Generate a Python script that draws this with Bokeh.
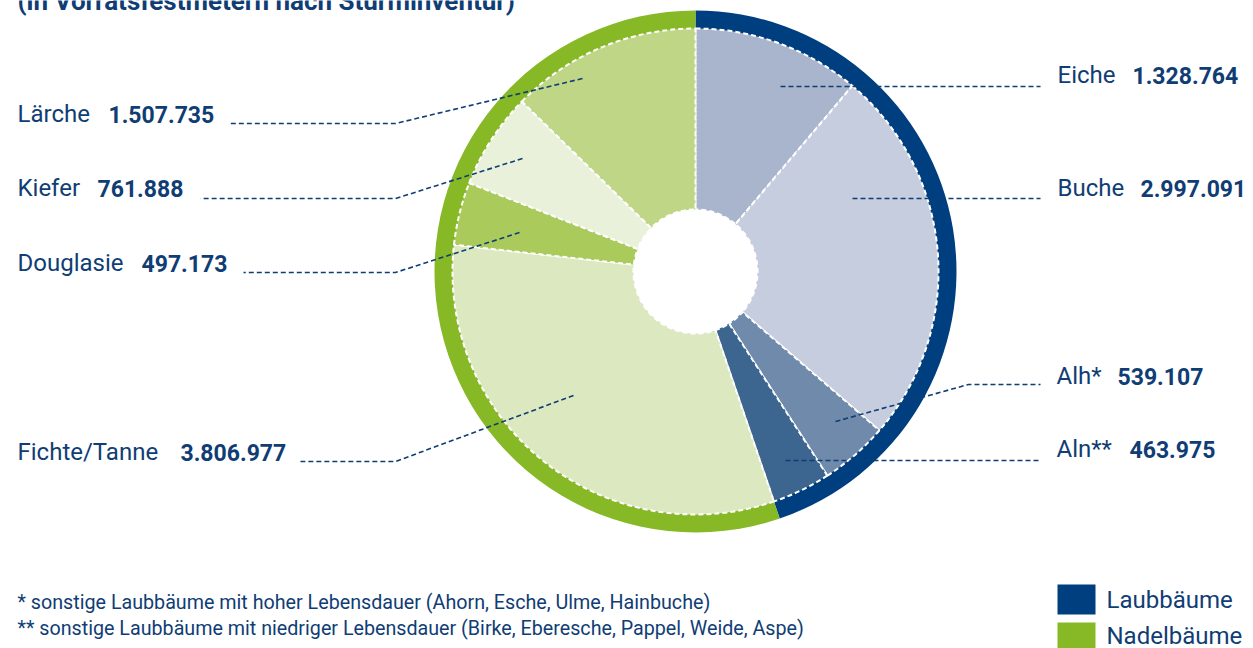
import math
from bokeh.plotting import figure
from bokeh.models import Range1d, ColumnDataSource
from bokeh.core.properties import value
from bokeh.embed import file_html
from bokeh.resources import INLINE

# ---------------- data ----------------
species = ["Eiche", "Buche", "Alh*", "Aln**", "Fichte/Tanne", "Douglasie", "Kiefer", "Lärche"]
volumes = [1328764, 2997091, 539107, 463975, 3806977, 497173, 761888, 1507735]
value_labels = ["1.328.764", "2.997.091", "539.107", "463.975", "3.806.977", "497.173", "761.888", "1.507.735"]
groups = ["Laubbäume", "Laubbäume", "Laubbäume", "Laubbäume", "Nadelbäume", "Nadelbäume", "Nadelbäume", "Nadelbäume"]
group_names = ["Laubbäume", "Nadelbäume"]
title_text = "(in Vorratsfestmetern nach Sturminventur)"
footnotes = ["*  sonstige Laubbäume mit hoher Lebensdauer (Ahorn, Esche, Ulme, Hainbuche)",
             "**  sonstige Laubbäume mit niedriger Lebensdauer (Birke, Eberesche, Pappel, Weide, Aspe)"]

# ---------------- style ----------------
slice_colors = ["#a9b5cd", "#c6cddf", "#6f8aab", "#3c6590", "#dce8c0", "#aacb5c", "#e9f1da", "#bfd686"]
group_colors = {"Laubbäume": "#003f7f", "Nadelbäume": "#86b925"}
TXT = "#0f3d74"
FONT = "Roboto"
BL = 0.38   # svg text sits this many em below the given y; compensate

CX, CY = 695, 271          # screen position of centre
R_HOLE, R_PIE, R_RING = 62, 243, 261

# label layout (screen px): name x, value x, baseline y, leader polyline
label_layout = {
    "Eiche":        dict(nx=1057, vx=1132, by=84,  line=[(780, 86), (1040, 86)]),
    "Buche":        dict(nx=1057, vx=1140, by=197, line=[(852, 198), (1040, 198)]),
    "Alh*":         dict(nx=1056, vx=1117, by=385, line=[(835, 421), (968, 384), (1040, 384)]),
    "Aln**":        dict(nx=1056, vx=1129, by=458, line=[(785, 460), (1040, 460)]),
    "Fichte/Tanne": dict(nx=17,   vx=180,  by=461, line=[(573, 395), (395, 461), (300, 461)]),
    "Douglasie":    dict(nx=17,   vx=141,  by=272, line=[(519, 232), (395, 272), (243, 272)]),
    "Kiefer":       dict(nx=17,   vx=97,   by=197, line=[(522, 158), (395, 198), (200, 198)]),
    "Lärche":       dict(nx=17,   vx=108,  by=123, line=[(582, 78), (395, 123), (230, 123)]),
}


def ty(baseline, size):
    return -(baseline - BL * size)


W, H = 1253, 648
p = figure(width=W, height=H, output_backend="svg", toolbar_location=None,
           x_range=Range1d(0, W), y_range=Range1d(-H, 0),
           min_border=0, x_axis_location=None, y_axis_location=None)
p.grid.visible = False
p.outline_line_color = None
p.background_fill_color = "white"
p.border_fill_color = "white"

# ---- pie slices (clockwise from 12 o'clock) ----
total = float(sum(volumes))
starts, ends = [], []
acc = 0.0
for v in volumes:
    a0 = acc / total * 2 * math.pi
    acc += v
    a1 = acc / total * 2 * math.pi
    starts.append(math.pi / 2 - a0)
    ends.append(math.pi / 2 - a1)

src = ColumnDataSource(dict(start=starts, end=ends, color=slice_colors))

# group ring
g_start, g_end, g_col = [], [], []
acc = 0.0
for g in group_names:
    gv = sum(v for v, gg in zip(volumes, groups) if gg == g)
    a0 = acc / total * 2 * math.pi
    acc += gv
    a1 = acc / total * 2 * math.pi
    g_start.append(math.pi / 2 - a0)
    g_end.append(math.pi / 2 - a1)
    g_col.append(group_colors[g])
p.annular_wedge(x=CX, y=-CY, inner_radius=R_PIE - 2, outer_radius=R_RING,
                inner_radius_units="screen", outer_radius_units="screen",
                start_angle=g_start, end_angle=g_end, direction="clock",
                fill_color=g_col, line_color=None)

p.annular_wedge(x=CX, y=-CY, inner_radius=R_HOLE, outer_radius=R_PIE,
                inner_radius_units="screen", outer_radius_units="screen",
                start_angle="start", end_angle="end", direction="clock",
                fill_color="color", line_color="white", line_width=2,
                line_dash="5 3", source=src)

# ---- leader lines ----
xs, ys = [], []
for s in species:
    pts = label_layout[s]["line"]
    xs.append([q[0] for q in pts])
    ys.append([-q[1] for q in pts])
p.multi_line(xs, ys, line_color=TXT, line_width=1.6, line_dash="5 3")

# ---- labels ----
p.text(x=[label_layout[s]["nx"] for s in species], y=[ty(label_layout[s]["by"], 24) for s in species],
       text=species, text_font=value(FONT), text_font_size="24px", text_color=TXT,
       text_baseline="alphabetic", text_align="left")
p.text(x=[label_layout[s]["vx"] for s in species], y=[ty(label_layout[s]["by"], 23) for s in species],
       text=value_labels, text_font=value(FONT), text_font_size="23px", text_color=TXT,
       text_font_style="bold", text_baseline="alphabetic", text_align="left")

# ---- title (cut at top, as in the original) ----
p.text(x=[17], y=[ty(10, 26)], text=[title_text], text_font=value(FONT), text_font_size="26px",
       text_font_style="bold", text_color=TXT, text_baseline="alphabetic")

# ---- footnotes ----
p.text(x=[17, 17], y=[ty(609, 19.7), ty(635, 19.7)], text=footnotes, text_font=value(FONT),
       text_font_size="19.7px", text_color=TXT, text_baseline="alphabetic")

# ---- legend ----
p.quad(left=[1057, 1057], right=[1095, 1095], top=[-584, -622], bottom=[-614, -652],
       fill_color=[group_colors[g] for g in group_names], line_color=None)
p.text(x=[1106, 1106], y=[ty(609, 24), ty(645, 24)], text=group_names, text_font=value(FONT),
       text_font_size="24px", text_color=TXT, text_baseline="alphabetic")

open("out.html", "w").write(file_html(p, INLINE))
